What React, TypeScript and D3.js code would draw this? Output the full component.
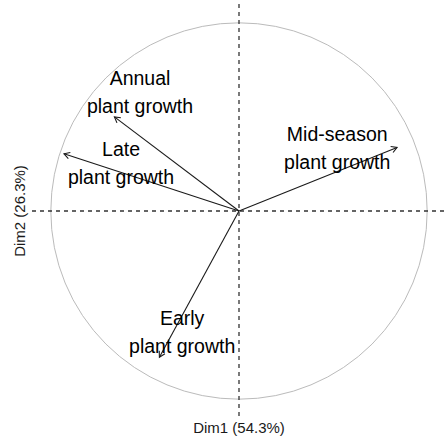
import React from "react";
import * as d3 from "d3";

const variables = ["Annual", "Late", "Mid-season", "Early"];
const dim1 = [-0.662, -0.93, 0.84, -0.423];
const dim2 = [0.5, 0.304, 0.338, -0.777];
const labelLine1 = ["Annual", "Late", "Mid-season", "Early"];
const labelLine2 = ["plant growth", "plant growth", "plant growth", "plant growth"];
// repel label anchors (data units)
const labelX = [-0.526, -0.627, 0.522, -0.302];
const labelY = [0.671, 0.294, 0.373, -0.605];
const xTitle = "Dim1 (54.3%)";
const yTitle = "Dim2 (26.3%)";

const W = 445;
const H = 442;

export default function App() {
  const x = d3.scaleLinear().domain([-1.1, 1.1]).range([32, 446]);
  const y = d3.scaleLinear().domain([-1.1, 1.1]).range([418, 4]);
  const cx = x(0);
  const cy = y(0);
  const r = x(1) - x(0);
  const circlePath = d3.path();
  circlePath.arc(cx, cy, r, 0, Math.PI * 2);
  const font = "'Liberation Sans', Arial, sans-serif";

  return (
    <svg
      width={W}
      height={H}
      style={{ position: "absolute", left: 0, top: 0, background: "#fff" }}
      fontFamily={font}
    >
      <path d={circlePath.toString()} fill="none" stroke="#bbbbbb" strokeWidth={1} />
      <line x1={x(-1.1)} x2={x(1.1)} y1={cy} y2={cy} stroke="#333" strokeWidth={1.3} strokeDasharray="4,4" />
      <line x1={cx} x2={cx} y1={y(1.1)} y2={y(-1.1)} stroke="#333" strokeWidth={1.3} strokeDasharray="4,4" />
      {variables.map((v, i) => {
        const tx = x(dim1[i]);
        const ty = y(dim2[i]);
        const ang = Math.atan2(ty - cy, tx - cx);
        const L = 6.5;
        const a1 = ang + Math.PI - Math.PI / 6;
        const a2 = ang + Math.PI + Math.PI / 6;
        const head = `M${tx + L * Math.cos(a1)},${ty + L * Math.sin(a1)}L${tx},${ty}L${tx + L * Math.cos(a2)},${ty + L * Math.sin(a2)}`;
        return (
          <g key={v}>
            <line x1={cx} y1={cy} x2={tx} y2={ty} stroke="#1a1a1a" strokeWidth={1.1} />
            <path d={head} fill="none" stroke="#1a1a1a" strokeWidth={1.1} />
          </g>
        );
      })}
      {variables.map((v, i) => (
        <text key={v + "l"} x={x(labelX[i])} y={y(labelY[i])} fontSize={19.5} fill="#000" textAnchor="middle">
          <tspan x={x(labelX[i])}>{labelLine1[i]}</tspan>
          <tspan x={x(labelX[i])} dy={28}>{labelLine2[i]}</tspan>
        </text>
      ))}
      <text x={cx} y={433} fontSize={15} fill="#1a1a1a" textAnchor="middle">{xTitle}</text>
      <text transform={`translate(25,${cy}) rotate(-90)`} fontSize={15} fill="#1a1a1a" textAnchor="middle">{yTitle}</text>
    </svg>
  );
}
